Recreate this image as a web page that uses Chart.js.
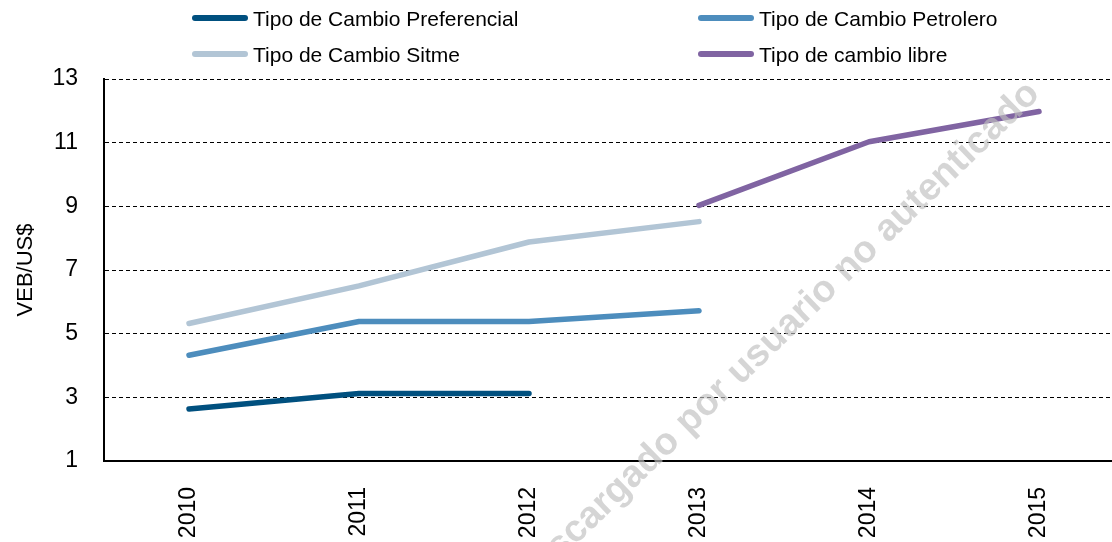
<!DOCTYPE html>
<html>
<head>
<meta charset="utf-8">
<script src="https://cdn.jsdelivr.net/npm/chart.js@4/dist/chart.umd.min.js"></script>
<style>
  html, body { margin: 0; padding: 0; background: #fff; overflow: hidden; }
  #wrap { position: relative; width: 1124px; height: 542px; }
</style>
</head>
<body>
<div id="wrap"><canvas id="chart" width="1124" height="542"></canvas></div>
<script>
// Chart data
const years = ['2010', '2011', '2012', '2013', '2014', '2015'];
const preferencial = [2.63, 3.12, 3.12, null, null, null];
const petrolero = [4.32, 5.38, 5.38, 5.72, null, null];
const sitme = [5.32, 6.5, 7.88, 8.52, null, null];
const libre = [null, null, null, 9.03, 11.03, 11.98];
const seriesNames = [
  'Tipo de Cambio Preferencial',
  'Tipo de Cambio Petrolero',
  'Tipo de Cambio Sitme',
  'Tipo de cambio libre',
];
const seriesColors = ['#00507f', '#4d8dbd', '#b2c5d5', '#8064a2'];
const yTicks = [1, 3, 5, 7, 9, 11, 13];

const FONT = 'Liberation Sans, Arial, sans-serif';

/**
 * Two-column legend drawn at fixed spots above the plot
 */
const columnLegend = {
  id: 'columnLegend',
  afterDraw(chart) {
    const ctx = chart.ctx;
    const cols = [192, 698];
    const rows = [18, 54];
    ctx.save();
    ctx.font = '21px ' + FONT;
    ctx.textBaseline = 'middle';
    ctx.textAlign = 'left';
    chart.data.datasets.forEach((ds, i) => {
      const x = cols[i % 2];
      const y = rows[Math.floor(i / 2)];
      ctx.strokeStyle = ds.borderColor;
      ctx.lineWidth = 6;
      ctx.lineCap = 'round';
      ctx.beginPath();
      ctx.moveTo(x + 3, y);
      ctx.lineTo(x + 53, y);
      ctx.stroke();
      ctx.fillStyle = '#000';
      ctx.fillText(ds.label, x + 61, y + 2);
    });
    ctx.restore();
  },
};

/**
 * Diagonal watermark text
 */
const watermark = {
  id: 'watermark',
  afterDraw(chart) {
    const ctx = chart.ctx;
    ctx.save();
    ctx.translate(1034, 88);
    ctx.rotate(-44 * Math.PI / 180);
    ctx.font = 'bold 38px ' + FONT;
    ctx.fillStyle = 'rgba(190, 190, 190, 0.65)';
    ctx.textAlign = 'right';
    ctx.textBaseline = 'middle';
    ctx.fillText('Descargado por usuario no autenticado', 0, 0);
    ctx.restore();
  },
};

const values = [preferencial, petrolero, sitme, libre];

new Chart(document.getElementById('chart'), {
  type: 'line',
  data: {
    labels: years,
    datasets: values.map((data, i) => ({
      label: seriesNames[i],
      data: data,
      borderColor: seriesColors[i],
      backgroundColor: seriesColors[i],
      borderWidth: 5.5,
      borderCapStyle: 'round',
      borderJoinStyle: 'round',
      pointRadius: 0,
      tension: 0,
      spanGaps: false,
      fill: false,
    })),
  },
  options: {
    responsive: false,
    animation: false,
    layout: { padding: { top: 79, left: 0, right: 0, bottom: 0 } },
    plugins: {
      legend: { display: false },
      tooltip: { enabled: false },
      title: { display: false },
    },
    scales: {
      x: {
        offset: true,
        grid: { display: false, drawTicks: false },
        border: { display: true, color: '#000', width: 2 },
        ticks: {
          color: '#000',
          font: { family: FONT, size: 23 },
          minRotation: 90,
          maxRotation: 90,
          padding: 26,
          autoSkip: false,
        },
        afterFit(scale) { scale.height = 81; },
      },
      y: {
        min: 1,
        max: 13,
        afterBuildTicks(scale) {
          scale.ticks = yTicks.map(v => ({ value: v }));
        },
        grid: {
          color: '#000',
          lineWidth: 1,
          drawTicks: false,
        },
        border: { display: true, color: '#000', width: 2, dash: [4, 3] },
        ticks: {
          color: '#000',
          font: { family: FONT, size: 23 },
          padding: 26,
        },
        title: {
          display: true,
          text: 'VEB/US$',
          color: '#000',
          font: { family: FONT, size: 22 },
          padding: { top: 13, bottom: 0 },
        },
        afterFit(scale) { scale.width = 104; },
      },
    },
  },
  plugins: [columnLegend, watermark],
});
</script>
</body>
</html>
